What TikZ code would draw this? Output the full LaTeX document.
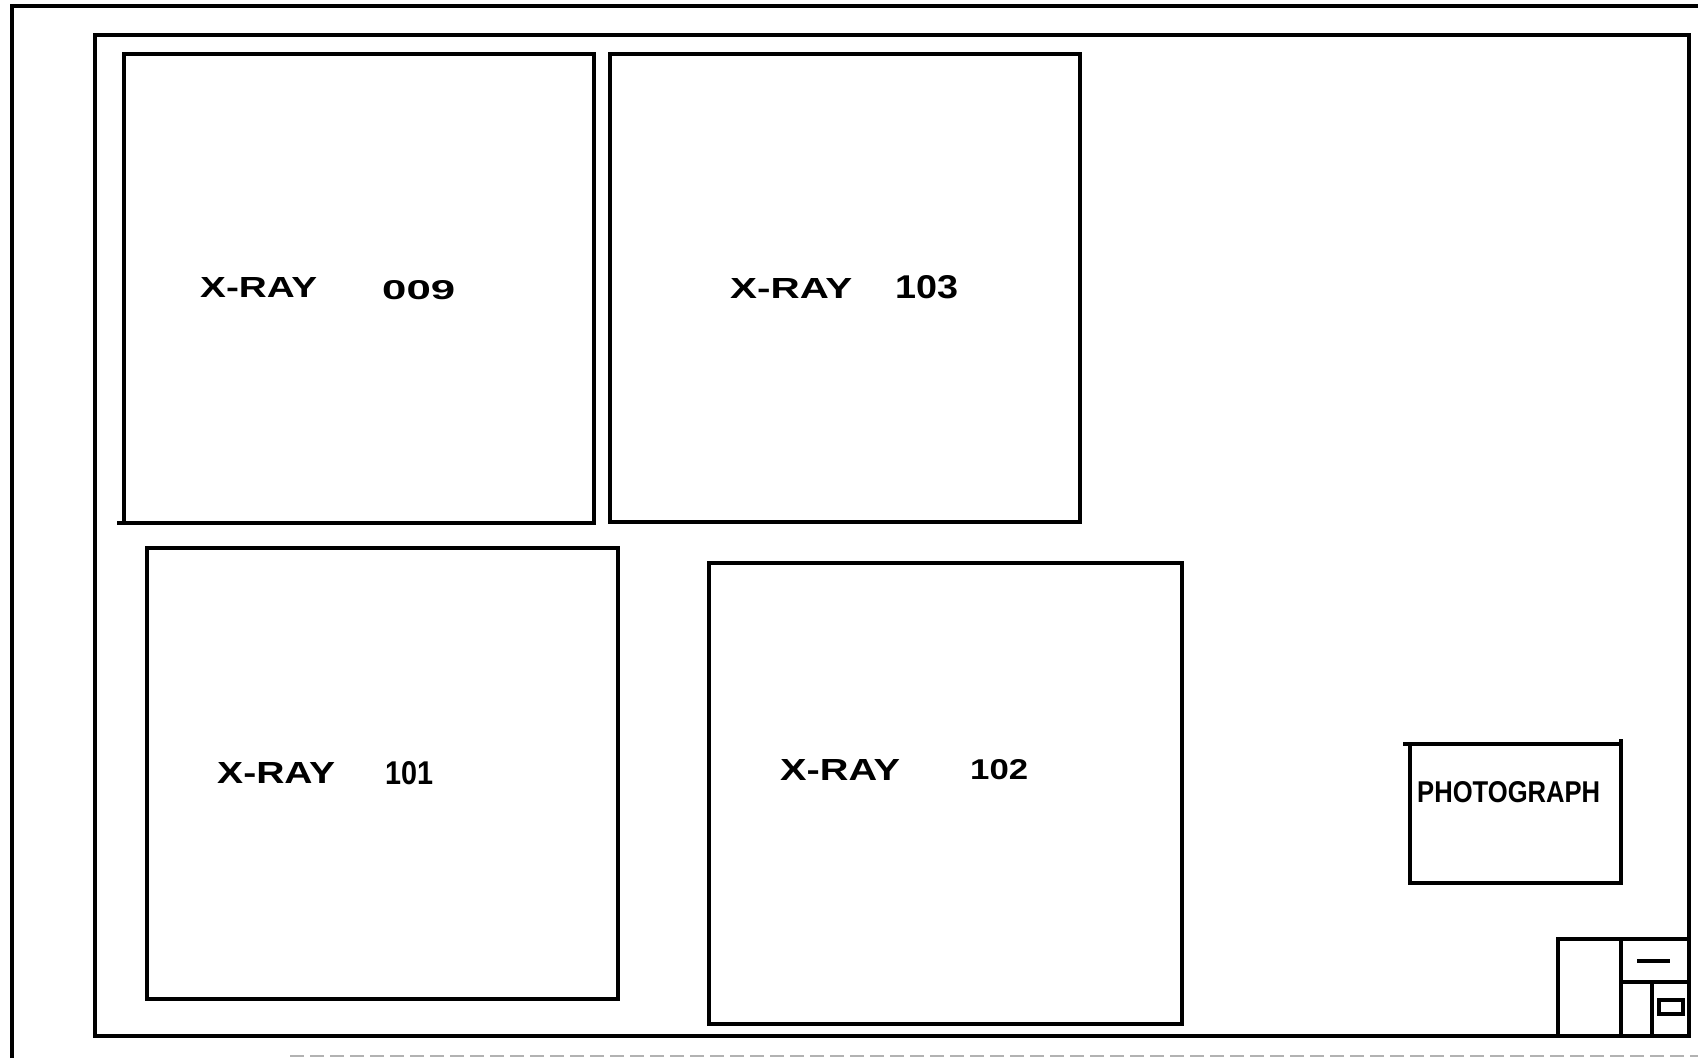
\documentclass[tikz,border=0pt]{standalone}
\usepackage{fontspec}
\setmainfont{Liberation Sans}
\usepackage{graphicx}
\tikzset{
  pen/.style={line width=3.6pt, line join=miter, black},
  lbl/.style={anchor=west, inner sep=0pt, font=\bfseries},
}
\newcommand{\hw}[3]{\resizebox{#1pt}{#2pt}{#3}}
\begin{document}
\begin{tikzpicture}[x=1pt,y=-1pt]
\useasboundingbox (0,0) rectangle (1698,1058);
% outer sheet frame
\draw[pen] (12,1058) -- (12,6) -- (1698,6);
\draw[line width=2pt, gray!60, dash pattern=on 14pt off 6pt] (290,1056) -- (1698,1056);
% inner frame
\draw[pen] (95,35) rectangle (1689,1036);
% x-ray boxes
\draw[pen] (124,54) rectangle (594,523);
\draw[pen] (117,523) -- (124,523);
\draw[pen] (610,54) rectangle (1080,522);
\draw[pen] (147,548) rectangle (618,999);
\draw[pen] (709,563) rectangle (1182,1024);
% photograph box
\draw[pen] (1410,744) rectangle (1621,883);
\draw[pen] (1403,744) -- (1410,744);
\draw[pen] (1621,744) -- (1621,739);
% title block
\draw[pen] (1558,1036) -- (1558,939) -- (1689,939);
\draw[pen] (1621,939) -- (1621,1036);
\draw[pen] (1621,982) -- (1689,982);
\draw[pen] (1652,982) -- (1652,1036);
\draw[pen] (1637,961) -- (1670,961);
\draw[pen] (1659,1000) rectangle (1683,1014);
% labels
\node[lbl] (t1) at (200,287) {\hw{117}{20}{X-RAY}};
\node[lbl] (n1) at (382,290) {\hw{73}{19}{009}};
\node[lbl] (t2) at (730,288) {\hw{122}{20}{X-RAY}};
\node[lbl] (n2) at (895,287) {\hw{63}{23}{103}};
\node[lbl] (t3) at (217,773) {\hw{118}{21}{X-RAY}};
\node[lbl] (n3) at (385,773) {\hw{48}{23}{101}};
\node[lbl] (t4) at (780,770) {\hw{120}{21}{X-RAY}};
\node[lbl] (n4) at (970,770) {\hw{58}{20}{102}};
\node[lbl] (ph) at (1417,792) {\hw{183}{21}{PHOTOGRAPH}};
\end{tikzpicture}
\end{document}
